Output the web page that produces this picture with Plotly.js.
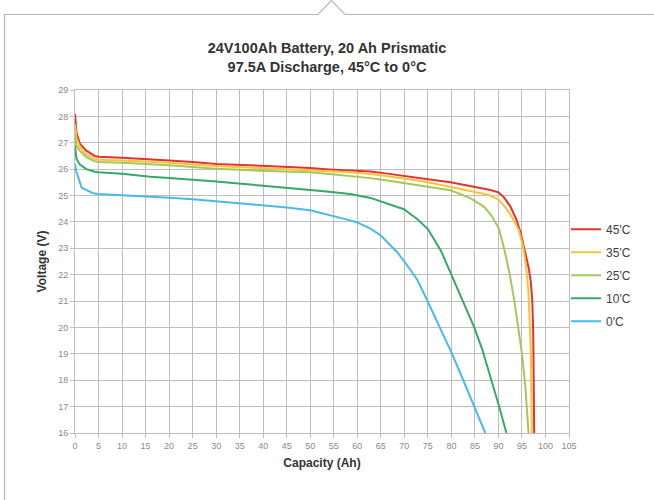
<!DOCTYPE html>
<html>
<head>
<meta charset="utf-8">
<script src="https://cdn.plot.ly/plotly-3.0.1.min.js"></script>
<style>
  html, body { margin: 0; padding: 0; background: #ffffff; }
  #wrap { position: relative; width: 654px; height: 500px; }
  #chart { position: absolute; left: 0; top: 0; width: 654px; height: 500px; }
  #frame { position: absolute; left: 0; top: 0; pointer-events: none; }
</style>
</head>
<body>
<div id="wrap">
  <div id="chart"></div>
  <svg id="frame" width="654" height="500">
    <polyline points="4.5,500 4.5,14.5 318,14.5 331.5,0.5 345,14.5 654,14.5" fill="none" stroke="#b4b8c4" stroke-width="1.2"/>
  </svg>
</div>
<script>
// Capacity (Ah) / Voltage (V) per temperature series
const seriesNames = ["45'C", "35'C", "25'C", "10'C", "0'C"];

const cap45 = [0, 0.3, 1, 2.4, 4.2, 5, 10, 16, 20, 25, 30, 39.4, 45, 50, 54, 58.5, 62.8, 66, 70, 75, 79.8, 84, 88.3, 90, 91.1, 92.5, 93.8, 94.7, 95.4, 96, 96.5, 96.9, 97.2, 97.4, 97.5, 97.6];
const volt45 = [28.1, 27.4, 26.98, 26.7, 26.5, 26.47, 26.43, 26.38, 26.33, 26.27, 26.2, 26.13, 26.09, 26.04, 25.99, 25.96, 25.91, 25.84, 25.75, 25.62, 25.5, 25.35, 25.21, 25.12, 24.95, 24.6, 24.1, 23.6, 23.0, 22.6, 22.2, 21.7, 21.0, 19.8, 18.0, 16.0];

const cap35 = [0, 0.3, 1, 2.4, 4.2, 5, 10, 16, 20, 25, 30, 39.4, 45, 50, 54, 58.5, 62.8, 66, 70, 75, 79.8, 84, 88, 90, 91.5, 93, 94.3, 95.2, 95.9, 96.4, 96.7, 96.9, 97.0, 97.1];
const volt35 = [27.7, 27.2, 26.85, 26.55, 26.4, 26.36, 26.33, 26.29, 26.24, 26.18, 26.12, 26.04, 26.0, 25.96, 25.92, 25.88, 25.82, 25.75, 25.65, 25.5, 25.33, 25.18, 25.02, 24.85, 24.55, 24.15, 23.7, 23.1, 22.3, 21.3, 20.2, 19.0, 17.5, 16.0];

const cap25 = [0, 0.3, 1, 2.4, 4.2, 5, 10, 16, 20, 25, 30, 39.4, 45, 50, 54, 58.5, 62.8, 66, 70, 75, 77.7, 79.8, 82, 84, 86.9, 88.5, 90.1, 91.2, 92.3, 93.3, 94.2, 95, 95.7, 96.1, 96.4];
const volt25 = [27.3, 26.9, 26.7, 26.45, 26.3, 26.27, 26.24, 26.19, 26.15, 26.08, 26.02, 25.94, 25.91, 25.88, 25.82, 25.75, 25.66, 25.58, 25.47, 25.32, 25.25, 25.2, 25.05, 24.9, 24.58, 24.25, 23.75, 23.0, 22.1, 21.1, 20.0, 19.0, 17.8, 16.9, 16.0];

const cap10 = [0, 0.3, 1, 2.4, 4.2, 5, 10, 16, 20, 25, 30, 39.4, 45, 50, 54, 58.5, 62.8, 64.9, 67, 69.9, 72.8, 75, 77.8, 79.9, 82, 84.8, 86.5, 88.3, 90, 91.7];
const volt10 = [26.9, 26.4, 26.18, 26.0, 25.9, 25.88, 25.83, 25.71, 25.66, 25.6, 25.53, 25.38, 25.3, 25.21, 25.14, 25.06, 24.91, 24.79, 24.66, 24.48, 24.1, 23.73, 22.9, 22.04, 21.2, 20.03, 19.2, 18.14, 17.1, 16.0];

const cap0 = [0, 0.3, 1.4, 3.8, 5, 10, 16, 20, 25, 30, 35, 39.4, 45, 50, 54, 58.5, 60, 62.8, 65, 68.5, 71.4, 72.8, 74.8, 77, 80.1, 83, 85, 87.2];
const volt0 = [26.2, 25.9, 25.3, 25.09, 25.06, 25.02, 24.96, 24.92, 24.86, 24.78, 24.7, 24.63, 24.55, 24.44, 24.27, 24.06, 23.98, 23.75, 23.48, 22.85, 22.16, 21.79, 21.05, 20.2, 19.02, 17.8, 16.95, 16.0];

const xTicks = [0, 5, 10, 15, 20, 25, 30, 35, 40, 45, 50, 55, 60, 65, 70, 75, 80, 85, 90, 95, 100, 105];
const yTicks = [16, 17, 18, 19, 20, 21, 22, 23, 24, 25, 26, 27, 28, 29];

const colors = ['#e2342c', '#f8c33a', '#a4c85c', '#36a86a', '#48bbe8'];
const caps = [cap45, cap35, cap25, cap10, cap0];
const volts = [volt45, volt35, volt25, volt10, volt0];

const traces = seriesNames.map((n, i) => ({
  type: 'scatter',
  mode: 'lines',
  name: n,
  legendgroup: 'g' + i,
  x: caps[i],
  y: volts[i],
  line: { color: colors[i], width: 2 }
}));

const gridColor = '#bebebe';
const fam = 'Liberation Sans, Arial, sans-serif';
const tickFont = { family: fam, size: 9, color: '#8a8a8a' };

const layout = {
  width: 654,
  height: 500,
  margin: { l: 75, r: 85, t: 90, b: 67 },
  paper_bgcolor: '#ffffff',
  plot_bgcolor: '#ffffff',
  showlegend: true,
  title: {
    text: '<b>24V100Ah Battery, 20 Ah Prismatic<br>97.5A Discharge, 45°C to 0°C</b>',
    font: { family: fam, size: 14.5, color: '#333333' },
    x: 0.5, xanchor: 'center',
    y: 0.894, yanchor: 'middle'
  },
  xaxis: {
    range: [0, 105],
    tickvals: xTicks,
    ticktext: xTicks.map(String),
    showgrid: true, gridcolor: gridColor, gridwidth: 1,
    zeroline: false,
    showline: true, linecolor: gridColor, linewidth: 1, mirror: true,
    ticks: 'outside', ticklen: 4, tickcolor: gridColor,
    tickfont: tickFont,
    title: { text: '<b>Capacity (Ah)</b>', font: { family: fam, size: 12, color: '#333333' }, standoff: 8 }
  },
  yaxis: {
    range: [16, 29],
    tickvals: yTicks,
    ticktext: yTicks.map(String),
    showgrid: true, gridcolor: gridColor, gridwidth: 1,
    zeroline: false,
    showline: true, linecolor: gridColor, linewidth: 1, mirror: true,
    ticks: 'outside', ticklen: 4, tickcolor: gridColor,
    tickfont: tickFont,
    title: { text: '<b>Voltage (V)</b>', font: { family: fam, size: 12, color: '#333333' }, standoff: 8 }
  },
  legend: {
    x: 0.994, xanchor: 'left',
    y: 0.636, yanchor: 'top',
    font: { family: fam, size: 12, color: '#404040' },
    bgcolor: 'rgba(0,0,0,0)',
    tracegroupgap: 4,
    traceorder: 'grouped'
  }
};

Plotly.newPlot('chart', traces, layout, { displayModeBar: false, staticPlot: true });
</script>
</body>
</html>
